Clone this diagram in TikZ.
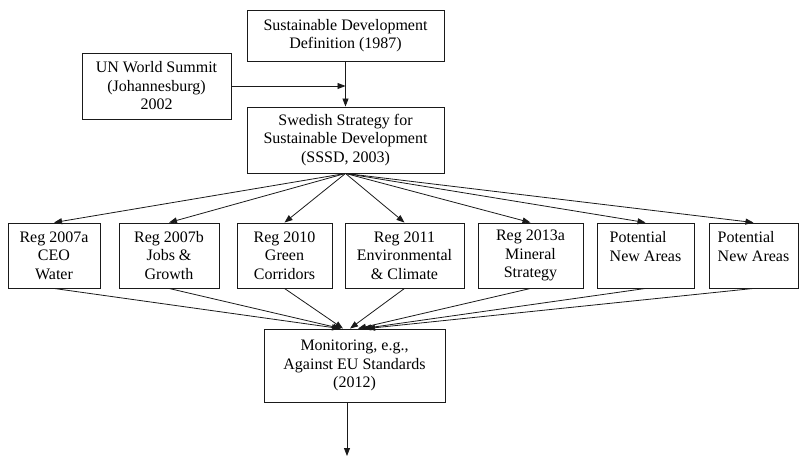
\documentclass[tikz,border=0pt]{standalone}
\usepackage{fontspec}
\setmainfont{Liberation Serif}
\usepackage{tikz}
\usepackage{xcolor}
\usetikzlibrary{arrows.meta,positioning,calc}
\definecolor{boxline}{HTML}{1A1A1A}
\tikzset{
  stagebox/.style={draw=boxline, line width=0.9bp, inner sep=0pt, align=center},
  flow/.style={draw=boxline, line width=0.8bp, -{Triangle[length=8bp,width=6bp]}}
}

\begin{document}
\begin{tikzpicture}[x=1bp,y=-1bp,font=\fontsize{16bp}{18.5bp}\selectfont]
\useasboundingbox (0,0) rectangle (799,457);
\node[stagebox, minimum width=197bp, minimum height=51bp] (sdd) at (345.5,35.5) {Sustainable Development\\Definition (1987)};
\node[stagebox, minimum width=149bp, minimum height=66bp] (wss) at (156.5,86) {UN World Summit\\(Johannesburg)\\2002};
\node[stagebox, minimum width=197bp, minimum height=66bp] (sssd) at (345.5,140) {Swedish Strategy for\\Sustainable Development\\(SSSD, 2003)};
\draw[flow] (sdd.south) -- (sssd.north);
\draw[flow] (wss.east) -- (wss.east -| sdd.south);
% regulations row
\foreach \n/\x/\w/\txt in {r1/54/92/{Reg 2007a\\CEO\\Water},
    r2/169/100/{Reg 2007b\\Jobs \&\\Growth},
    r3/284.5/95/{Reg 2010\\Green\\Corridors},
    r4/404.5/119/{Reg 2011\\Environmental\\\& Climate},
    r5/530.5/105/{Reg 2013a\\Mineral\\Strategy}}
  \node[stagebox, minimum width=\w bp, minimum height=65bp] (\n) at (\x,255.5) {\txt};
\foreach \n/\x/\w in {r6/645.5/97,r7/753.5/89}
  \node[stagebox, align=left, minimum width=\w bp, minimum height=65bp] (\n) at (\x,255.5) {Potential\\New Areas\\\mbox{}};
\node[stagebox, minimum width=181bp, minimum height=73bp] (mon) at (354.5,365.5) {Monitoring, e.g.,\\Against EU Standards\\(2012)};
\foreach \n/\dx in {r1/-14.5,r2/-13.5,r3/-11.5,r4/-4.5,r5/3.5,r6/8.5,r7/12.5} {
  \draw[flow] (sssd.south) -- (\n.north);
  \draw[flow] (\n.south) -- ([xshift=\dx bp]mon.north);
}
\coordinate (next) at (347,456);
\draw[flow] (mon.south -| next) -- (next);
\end{tikzpicture}
\end{document}
